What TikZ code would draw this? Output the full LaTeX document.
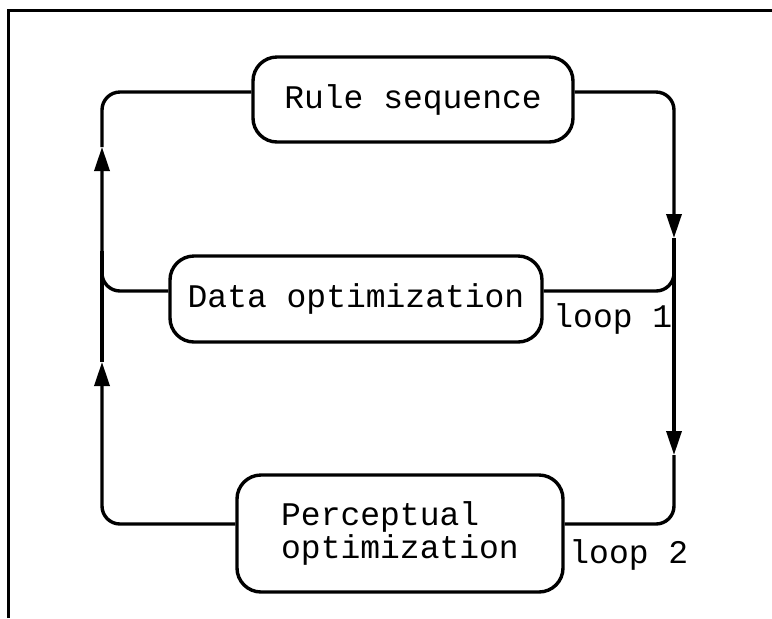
\documentclass[tikz,border=0pt]{standalone}
\usepackage{fontspec}
\newfontfamily\courfont{Liberation Mono}
\usetikzlibrary{arrows.meta}

\tikzset{
	stage/.style={draw, rounded corners=12pt, line width=1.7pt, font=\courfont\fontsize{16.5}{15}\selectfont, align=left},
	flow/.style={line width=1.7pt, rounded corners=9pt},
	tip/.style={-{Triangle[length=12pt,width=7.5pt]}},
	looplabel/.style={font=\courfont\fontsize{16.5}{15}\selectfont, anchor=base west, inner sep=0pt}
}

\begin{document}
\begin{tikzpicture}[x=0.5pt,y=-0.5pt]
	\useasboundingbox (0,0) rectangle (772,618);
	% frame
	\draw[line width=1.5pt] (8,618) -- (8,10) -- (772,10);
	% stages
	\node[stage, minimum width=160pt, minimum height=42.5pt] (rule) at (413,99.5) {Rule sequence};
	\node[stage, minimum width=186pt, minimum height=43pt] (data) at (356,299) {Data optimization};
	\node[stage, minimum width=163pt, minimum height=58.5pt] (percept) at (400,533.5) {Perceptual\\optimization};
	\node[looplabel] (loop1) at (553,327) {loop 1};
	\node[looplabel] (loop2) at (569,563) {loop 2};
	% corners and arrow points
	\coordinate (lt) at (102,92);
	\coordinate (rt) at (674,92);
	\coordinate (lm) at (102,291);
	\coordinate (rm) at (674,291);
	\coordinate (lb) at (102,524);
	\coordinate (rb) at (674,524);
	\coordinate (a1) at (674,238);
	\coordinate (a2) at (102,147);
	\coordinate (a3) at (674,455);
	\coordinate (a4) at (102,362);
	% loop 1
	\draw[flow, tip] (rule.east |- rt) -- (rt) -- (a1);
	\draw[flow] (a1) -- (rm) -- (data.east |- rm);
	\draw[flow, tip] (data.west |- lm) -- (lm) -- (a2);
	\draw[flow] (a2) -- (lt) -- (rule.west |- lt);
	% loop 2
	\draw[flow, tip] (a1) -- (a3);
	\draw[flow] (a3) -- (rb) -- (percept.east |- rb);
	\draw[flow, tip] (percept.west |- lb) -- (lb) -- (a4);
	\draw[flow] (a4) -- ([yshift=20pt]lm);
\end{tikzpicture}
\end{document}
